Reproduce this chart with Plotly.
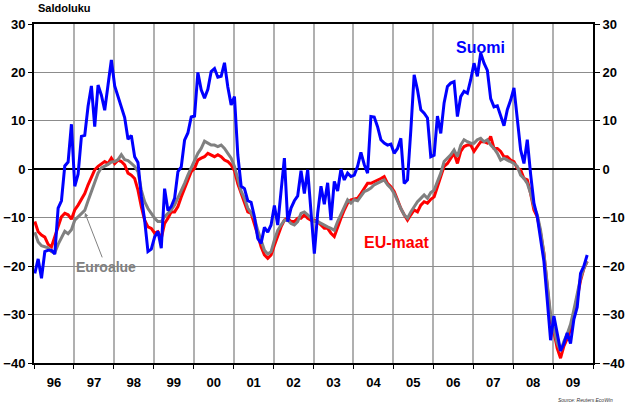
import plotly.graph_objects as go

year_labels = ["96", "97", "98", "99", "00", "01", "02", "03", "04", "05", "06", "07", "08", "09"]
first_year = 1996

suomi = [-21.5, -18.5, -22.5, -17, -16.7, -16.7, -17.5, -8, -6.5, 0.7,
         1.5, 9.3, -3.5, -1, 6.8, 7, 13, 17.2, 8.8, 17.4,
         15.3, 12.2, 17.4, 22.6, 17.2, 15, 12.8, 10.7, 6.2, 7,
         2.6, 1.4, -5.6, -10.5, -17, -16.5, -14, -12.8, -16.3, -4,
         -8.5, -7.7, -6, -0.5, 0.5, 6, 7.5, 10.8, 11, 20,
         16.4, 14.7, 16.5, 20.2, 20.8, 19, 19.2, 22, 17, 13.3,
         15, 3, -3.5, -4, -6.5, -6.8, -9.8, -14.3, -15.3, -12,
         -13, -11.5, -7.5, -11.5, -4.5, 2.3, -10.8, -8, -6.5, -5.5,
         -0.3, -5, -0.1, -9, -17.4, -9.1, -3.5, -7.2, -2.8, -10.5,
         -2.5, -4.5, 0, -2.2, -0.8, -1.5, -1.2, 0.6, 3.5, 1,
         -0.8, 10.9, 10.8, 8.8, 6.1, 5.4, 5, 5.2, 3.3, 4.3,
         6.4, -2.9, -2.2, 8.1, 19.5, 16.4, 12.3, 11.6, 10.6, 2.6,
         2.9, 11, 7.4, 13.7, 17.1, 17.8, 18.1, 10.9, 15, 16.1,
         15.7, 18.5, 21.9, 19.2, 24, 21.9, 20.4, 14.6, 12.9, 13.1,
         10.8, 9, 12.3, 14.3, 16.8, 10.2, 4, 1.2, 6.1, -1,
         -7, -9.8, -14, -19, -27, -35.3, -30.3, -34, -37.5, -36,
         -33.8, -36, -31, -28.5, -21.5, -20, -17.7]

eu_maat = [-10.8, -12.9, -13.6, -14, -15.5, -16, -13.9, -11.9, -9.8, -9.1,
           -9.4, -10.3, -8.4, -7.4, -6.3, -5, -3.2, -1.5, -0.1, 0.6,
           1.1, 1.6, 1.2, 2.3, 1.2, 1.9, 1.6, 0.9, -0.8, -1.2,
           -1.9, -4.3, -7.7, -10.5, -11.9, -12.2, -13.2, -12.9, -14.3, -11.2,
           -10.1, -8.8, -8.8, -7.7, -5.7, -3.9, -1.9, -0.5, 0.2, 1.9,
           2.3, 2.6, 3.3, 3, 2.6, 3, 2.6, 1.9, 1.6, 0.9,
           -0.3, -3, -5, -6.7, -8.8, -9.1, -11.2, -13.6, -16, -17.7,
           -18.4, -17.7, -15.7, -13.6, -11.9, -10.5, -10.1, -10.8, -10.8, -10.1,
           -10.1, -9.4, -10.1, -10.5, -10.5, -10.8, -11.5, -12.2, -12.2, -13.2,
           -13.9, -11.9, -10.1, -8.4, -7, -6.3, -6.2, -6, -5, -4,
           -2.9, -2.9, -2.6, -2.2, -1.9, -1.5, -2.9, -3.6, -4.6, -6.3,
           -8.1, -9.4, -10.5, -9.4, -8.4, -8.8, -7.4, -6.7, -7, -6.2,
           -5.7, -3.6, -1.5, 0.6, 1.2, 2.3, 3.3, 1.2, 3.7, 4.7,
           5, 5, 3.7, 4.7, 5.7, 5.7, 5.4, 6.8, 4.3, 4.3,
           3.7, 2.6, 2.6, 1.9, 1.6, 0.2, -0.1, -1.9, -2.2, -5,
           -8.4, -9.8, -13.2, -17.4, -25, -31, -33.5, -37, -39, -36.5,
           -35, -33, -30, -26.5, -23, -20.5, -19]

euroalue = [-13, -15, -15.8, -16, -16.2, -17, -17.2, -15.5, -14, -12.8,
            -13.3, -12.5, -10.5, -9.8, -9.2, -8.5, -6.5, -4.5, -2.5, -0.8,
            0.3, 0.6, 1, 1.5, 1.6, 2, 3, 2, 1.8, 1.2,
            0.6, -0.5, -4.3, -6.7, -8.1, -9.1, -10.1, -10.8, -10.8, -9.8,
            -9.1, -8.4, -7.4, -6, -4.3, -2.9, -1.2, 0.2, 1.9, 3.3,
            4.3, 5.8, 5.4, 5, 5, 4.7, 5, 4.3, 3.3, 2.3,
            0.6, -2, -4.5, -6, -8, -9, -10.1, -12.6, -14.6, -16.7,
            -17.5, -17, -14.6, -12.6, -11.5, -10.5, -10.5, -11.2, -11.5, -10.8,
            -9.1, -8.8, -9.4, -10.1, -10.8, -10.8, -11.2, -11.5, -11.9, -12.2,
            -12.6, -10.8, -9.4, -7.7, -6.3, -7, -6.3, -6.5, -5.5, -4.6,
            -4.3, -3.9, -3.2, -2.9, -2.6, -2.2, -3.2, -3.9, -5, -6.7,
            -8.1, -9.4, -10.1, -8.8, -7.7, -6.7, -6, -5.3, -6, -4.8,
            -4.3, -2.6, -0.8, 1.6, 2.3, 3, 4, 2.6, 5, 6.1,
            5.7, 5.4, 5.4, 6.1, 6.4, 5.7, 6.1, 5, 4.3, 3.3,
            1.9, 2.3, 1.9, 1.6, 1.2, 0.6, -1.2, -1.9, -2.9, -5,
            -7.7, -9.4, -12.6, -17.4, -24, -30, -33, -36, -37.5, -35.5,
            -34, -32, -29, -25.5, -22.5, -20.5, -19]

n = len(suomi)
xs = [first_year + (i + 0.25) / 12 for i in range(n)]
last_year = first_year + len(year_labels)

fig = go.Figure()
fig.add_trace(go.Scatter(x=xs, y=eu_maat, mode="lines", name="EU-maat",
                         line=dict(color="#ff0000", width=3)))
fig.add_trace(go.Scatter(x=xs, y=euroalue, mode="lines", name="Euroalue",
                         line=dict(color="#808080", width=3)))
fig.add_trace(go.Scatter(x=xs, y=suomi, mode="lines", name="Suomi",
                         line=dict(color="#0000ff", width=3)))
fig.add_trace(go.Scatter(x=[None], y=[None], yaxis="y2", showlegend=False, hoverinfo="skip"))

font_family = "Arial, 'Liberation Sans', sans-serif"
tick_font = dict(family=font_family, size=13, color="#000000", weight="bold")

fig.update_layout(
    width=635, height=405,
    margin=dict(l=34, r=42, t=24, b=42, autoexpand=False),
    paper_bgcolor="white", plot_bgcolor="white",
    showlegend=False,
    font=dict(family=font_family),
    xaxis=dict(
        range=[first_year, last_year],
        automargin=False,
        tickmode="array",
        tickvals=[first_year + i + 0.5 for i in range(len(year_labels))],
        ticktext=year_labels,
        ticks="outside", ticklen=6, tickcolor="rgba(0,0,0,0)",
        tickfont=tick_font,
        showgrid=False, zeroline=False,
        showline=True, linecolor="#000000", linewidth=2, mirror=True,
        minor=dict(tickmode="array",
                   tickvals=[first_year + i for i in range(len(year_labels) + 1)],
                   showgrid=True, gridcolor="#b0b0b0", gridwidth=1.5,
                   ticks="outside", ticklen=4, tickcolor="#000000", tickwidth=1),
    ),
    yaxis=dict(
        range=[-40, 30], dtick=10, tick0=0,
        automargin=False,
        showgrid=True, gridcolor="#8c8c8c", gridwidth=1,
        zeroline=True, zerolinecolor="#000000", zerolinewidth=2,
        ticks="outside", ticklen=4, tickcolor="#000000",
        tickfont=tick_font,
        showline=True, linecolor="#000000", linewidth=2, mirror=True,
    ),
    yaxis2=dict(
        range=[-40, 30], dtick=10, tick0=0,
        automargin=False,
        overlaying="y", side="right",
        showgrid=False, zeroline=False,
        ticks="outside", ticklen=5, tickcolor="#000000",
        tickfont=tick_font,
        showline=True, linecolor="#000000", linewidth=2,
    ),
)

fig.add_annotation(xref="paper", yref="paper", x=0.004, y=1.048, xanchor="left", yanchor="middle",
                   text="<b>Saldoluku</b>", showarrow=False,
                   font=dict(family=font_family, size=11, color="#000000"))
fig.add_annotation(xref="paper", yref="paper", x=0.798, y=0.932, xanchor="center", yanchor="middle",
                   text="<b>Suomi</b>", showarrow=False,
                   font=dict(family=font_family, size=16, color="#0000ff"))
fig.add_annotation(xref="paper", yref="paper", x=0.649, y=0.354, xanchor="center", yanchor="middle",
                   text="<b>EU-maat</b>", showarrow=False,
                   font=dict(family=font_family, size=16, color="#ff0000"))
fig.add_annotation(x=first_year + 15.3 / 12, y=-9.0, ax=21, ay=54,
                   text="<b>Euroalue</b>", showarrow=True,
                   arrowhead=2, arrowsize=0.8, arrowwidth=1, arrowcolor="#808080",
                   font=dict(family=font_family, size=14, color="#808080"))
fig.add_annotation(xref="paper", yref="paper", x=1.039, y=-0.109, xanchor="right", yanchor="middle",
                   text="<i>Source: Reuters EcoWin</i>", showarrow=False,
                   font=dict(family=font_family, size=5, color="#333333"))

fig.write_html("out.html", config={"displayModeBar": False},
               post_script="document.body.style.margin='0';document.body.style.overflow='hidden';")
